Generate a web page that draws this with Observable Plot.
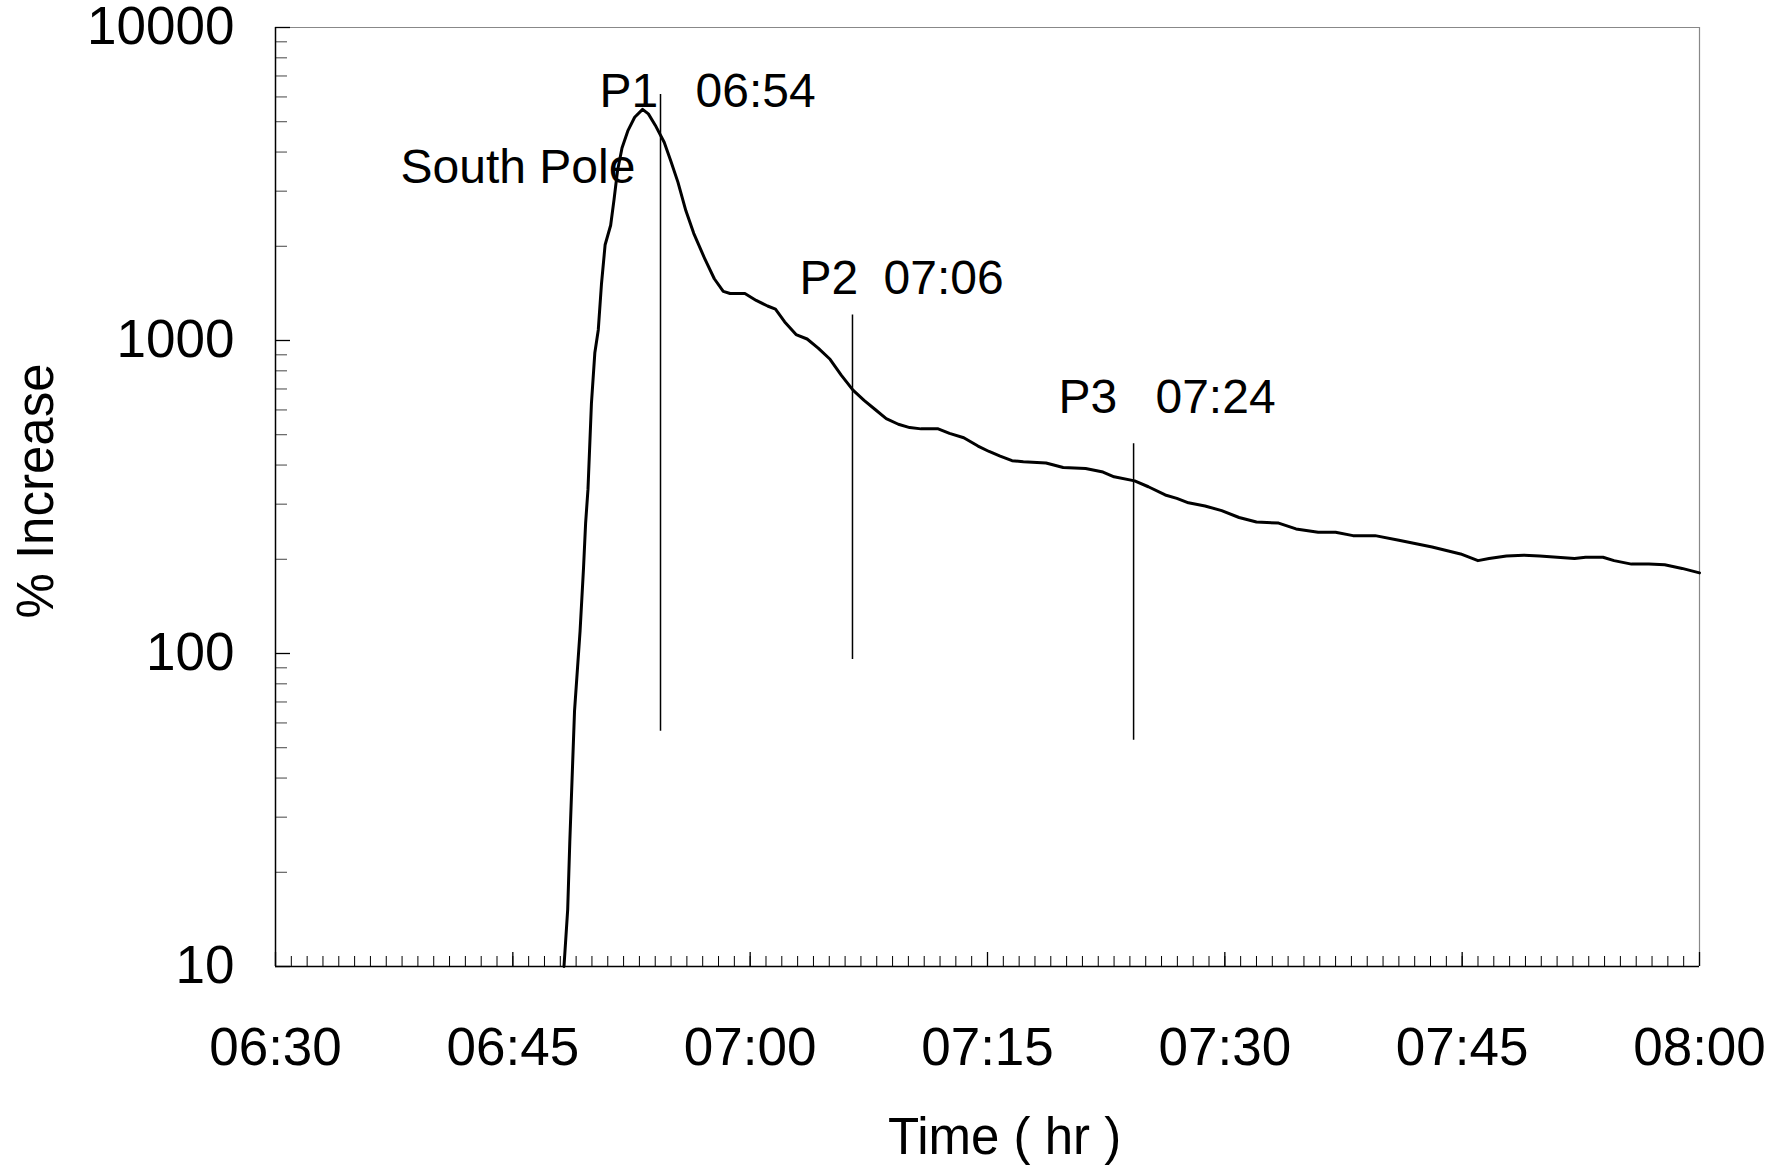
<!DOCTYPE html>
<html><head><meta charset="utf-8">
<script src="https://cdn.jsdelivr.net/npm/d3@7"></script>
<script src="https://cdn.jsdelivr.net/npm/@observablehq/plot@0.6"></script>
<style>html,body{margin:0;padding:0;background:#fff}</style>
</head><body><div id="chart"></div>
<script>
// Curve: time of day and % increase
const times = ["06:48:14","06:48:28","06:48:36","06:48:54","06:49:15","06:49:28","06:49:36","06:49:45","06:49:58","06:50:11","06:50:24","06:50:36","06:50:50","06:51:11","06:51:24","06:51:37","06:51:54","06:52:16","06:52:42","06:53:12","06:53:34","06:54:00","06:54:34","06:55:00","06:55:26","06:55:56","06:56:26","06:57:09","06:57:44","06:58:18","06:58:44","06:59:40","07:00:23","07:01:06","07:01:36","07:02:11","07:02:54","07:03:36","07:04:18","07:05:03","07:05:46","07:06:30","07:07:12","07:07:54","07:08:36","07:09:22","07:10:05","07:10:48","07:11:53","07:12:36","07:13:30","07:14:24","07:15:06","07:15:48","07:16:33","07:17:16","07:18:42","07:19:47","07:21:12","07:22:18","07:23:00","07:24:18","07:25:10","07:26:14","07:26:58","07:27:42","07:28:45","07:29:48","07:30:54","07:32:00","07:33:24","07:34:30","07:35:54","07:37:00","07:38:06","07:39:30","07:41:00","07:43:06","07:44:54","07:46:00","07:46:42","07:47:48","07:48:54","07:49:54","07:51:00","07:52:06","07:52:48","07:53:54","07:54:36","07:55:42","07:56:48","07:57:48","07:58:54","08:00:00"];
const increase = [10,15.2,25,65.6,118,187,261,335,628,914,1081,1510,2023,2334,2829,3487,4121,4672,5168,5477,5297,4875,4298,3727,3206,2601,2200,1815,1575,1436,1413,1413,1343,1289,1259,1146,1045,1011,946,871,774,694,644,602,563,540,527,522,522,505,489,460,442,427,413,410,406,393,390,380,367,356,341,321,313,303,296,286,272,263,261,250,244,244,238,238,230,219,208,198,201,205,206,205,203,201,203,203,198,193,193,192,187,181];

// Marker lines
const markerTime = ["06:54:20","07:06:28","07:24:14"];
const markerTop = [6109,1206,468];
const markerBottom = [56.4,95.6,52.8];

// Annotations
const labelText = ["P1","06:54","South Pole","P2","07:06","P3","07:24"];
const labelTime = ["06:50:29","06:56:33","06:37:54","07:03:07","07:08:26","07:19:29","07:25:37"];
const labelValue = [6257,6257,3577,1581,1581,658,658];

// Axes
const yMajor = [10,100,1000,10000];
const xStart = "06:30:00", xEnd = "08:00:00";
const xTitle = "Time ( hr )";
const yTitle = "% Increase";

const parse = d3.utcParse("%H:%M:%S");
const curve = times.map((t,i)=>({time: parse(t), value: increase[i]}));
const markers = markerTime.map((t,i)=>({time: parse(t), top: markerTop[i], bottom: markerBottom[i]}));
const labels = labelText.map((s,i)=>({text: s, time: parse(labelTime[i]), value: labelValue[i]}));
const yMinor = [];
for (const d of [10,100,1000]) for (let k=2;k<=9;k++) yMinor.push(d*k);
const x0 = parse(xStart), x1 = parse(xEnd);

const font = "'Liberation Sans', Arial, sans-serif";
const plot = Plot.plot({
  width: 1782, height: 1171,
  marginLeft: 275, marginRight: 83, marginTop: 27, marginBottom: 205,
  style: {fontFamily: font, background: "#fff", color: "#000", overflow: "visible"},
  x: {type: "utc", domain: [x0, x1]},
  y: {type: "log", domain: [10, 10000]},
  marks: [
    // frame
    Plot.ruleY([10000], {stroke: "#888", strokeWidth: 1.2}),
    Plot.ruleX([x1], {stroke: "#888", strokeWidth: 1.2}),
    // ticks
    Plot.axisX({ticks: d3.utcMinute.every(1), tickSize: -10, fill: "none", label: null, stroke: "#000", strokeWidth: 1}),
    Plot.axisX({ticks: d3.utcMinute.every(15), tickSize: -14, fill: "none", label: null, stroke: "#000", strokeWidth: 1.3}),
    Plot.axisX({ticks: d3.utcMinute.every(15), tickSize: 0, tickPadding: 61, tickFormat: d3.utcFormat("%H:%M"), fontSize: 53, label: null}),
    Plot.axisY({ticks: yMinor, tickSize: -12, fill: "none", label: null, stroke: "#444"}),
    Plot.axisY({ticks: yMajor, tickSize: -15, fill: "none", label: null, stroke: "#000", strokeWidth: 1.3}),
    Plot.axisY({ticks: yMajor, tickSize: 0, tickPadding: 41, tickFormat: d => String(d), fontSize: 53, label: null}),
    Plot.ruleX([x0], {stroke: "#000", strokeWidth: 1.5}),
    Plot.ruleY([10], {stroke: "#000", strokeWidth: 1.5}),
    // titles
    Plot.text([xTitle], {frameAnchor: "bottom", text: d => d, textAnchor: "middle", dx: 17, dy: 151, lineAnchor: "top", fontSize: 51}),
    Plot.text([yTitle], {frameAnchor: "left", text: d => d, textAnchor: "middle", rotate: -90, dx: -239, dy: -6, fontSize: 51}),
    // markers
    Plot.ruleX(markers, {x: "time", y1: "top", y2: "bottom", stroke: "#000", strokeWidth: 1.5}),
    // curve
    Plot.line(curve, {x: "time", y: "value", stroke: "#000", strokeWidth: 3, curve: "linear"}),
    // annotations
    Plot.text(labels, {x: "time", y: "value", text: "text", textAnchor: "start", fontSize: 48, fill: "#000"})
  ]
});
document.getElementById("chart").appendChild(plot);
</script>
</body></html>
